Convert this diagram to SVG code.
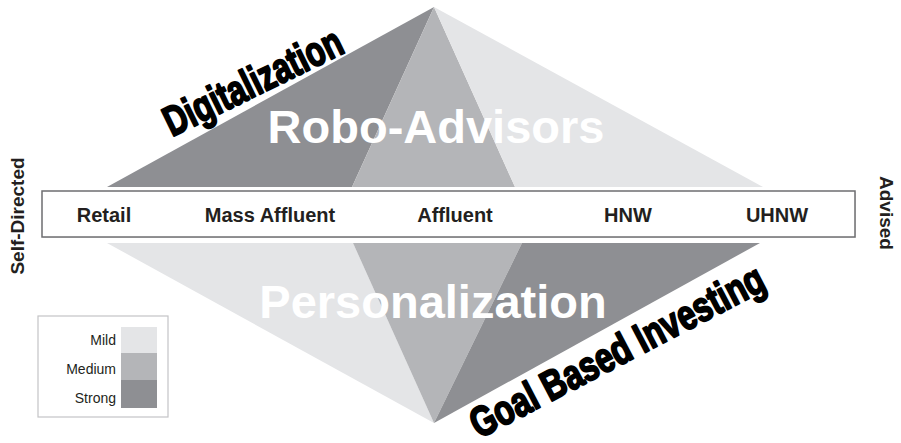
<svg xmlns="http://www.w3.org/2000/svg" width="901" height="443" viewBox="0 0 901 443">
  <style>
    .mild { fill: #e4e5e7; }
    .medium { fill: #b4b5b8; }
    .strong { fill: #8e8f93; }
    .big { font-family: "Liberation Sans", Arial, sans-serif; font-weight: bold; font-size: 47px; fill: #ffffff; text-anchor: middle; }
    .theme { font-family: "Liberation Sans", Arial, sans-serif; font-weight: bold; font-size: 42px; fill: #000000; stroke: #000000; stroke-width: 2px; stroke-linejoin: round; }
    .seg { font-family: "Liberation Sans", Arial, sans-serif; font-weight: bold; font-size: 20px; fill: #231f20; text-anchor: middle; }
    .axis { font-family: "Liberation Sans", Arial, sans-serif; font-weight: bold; font-size: 19px; fill: #231f20; text-anchor: middle; }
    .leg { font-family: "Liberation Sans", Arial, sans-serif; font-size: 14px; fill: #231f20; text-anchor: end; }
  </style>

  <!-- upper triangle: technology adoption -->
  <g id="upper-triangle">
    <polygon class="strong" points="434,7 107,187 352,187"/>
    <polygon class="medium" points="434,7 352,187 515,187"/>
    <polygon class="mild" points="434,7 515,187 763,187"/>
    <text class="big" x="436" y="143">Robo-Advisors</text>
  </g>

  <!-- lower triangle: client intimacy -->
  <g id="lower-triangle">
    <polygon class="mild" points="107,243 353,243 434,423"/>
    <polygon class="medium" points="353,243 522,243 434,423"/>
    <polygon class="strong" points="522,243 760,243 434,423"/>
    <text class="big" x="433" y="318">Personalization</text>
  </g>

  <!-- slanted theme labels -->
  <g id="digitalization">
    <text class="theme" transform="translate(172,137) rotate(-26)" textLength="194" lengthAdjust="spacingAndGlyphs">Digitalization</text>
  </g>
  <g id="goal-based-investing">
    <text class="theme" transform="translate(479,439) rotate(-27.5)" textLength="326" lengthAdjust="spacingAndGlyphs">Goal Based Investing</text>
  </g>

  <!-- client segment bar -->
  <g id="segments">
    <rect x="43" y="192" width="813" height="46" fill="#000000" opacity="0.08"/>
    <rect x="42" y="191" width="813" height="46" fill="#ffffff" stroke="#6e6e70" stroke-width="1.5"/>
    <text class="seg" x="104" y="222">Retail</text>
    <text class="seg" x="270" y="222">Mass Affluent</text>
    <text class="seg" x="455" y="222">Affluent</text>
    <text class="seg" x="628" y="222">HNW</text>
    <text class="seg" x="777" y="222">UHNW</text>
  </g>

  <!-- axis ends -->
  <g id="self-directed">
    <text class="axis" transform="translate(24,216) rotate(-90)">Self-Directed</text>
  </g>
  <g id="advised">
    <text class="axis" transform="translate(880,213) rotate(90)">Advised</text>
  </g>

  <!-- legend -->
  <g id="legend">
    <rect x="38" y="316" width="130" height="101" fill="#ffffff" stroke="#c4c4c6" stroke-width="1.2"/>
    <rect class="mild" x="121" y="327" width="36" height="26"/>
    <rect class="medium" x="121" y="353" width="36" height="27"/>
    <rect class="strong" x="121" y="380" width="36" height="28"/>
    <text class="leg" x="116" y="345">Mild</text>
    <text class="leg" x="116" y="374">Medium</text>
    <text class="leg" x="116" y="403">Strong</text>
  </g>
</svg>
